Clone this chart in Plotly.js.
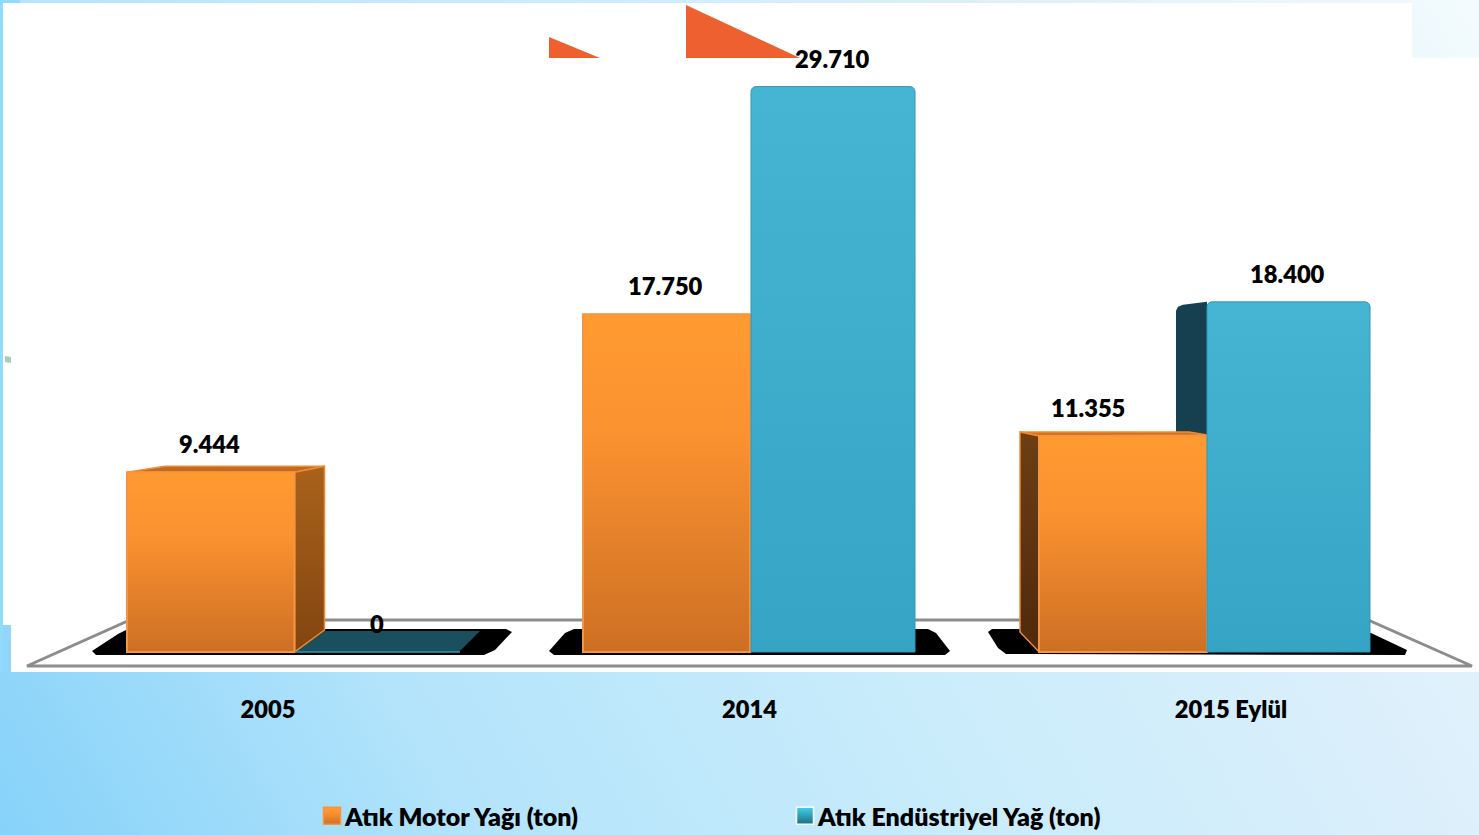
<!DOCTYPE html>
<html lang="tr">
<head>
<meta charset="utf-8">
<title>Atık yağ miktarları</title>
<script src="https://cdn.plot.ly/plotly-3.0.1.min.js"></script>
<style>
  html, body { margin: 0; padding: 0; width: 1479px; height: 835px; overflow: hidden; }
  body { background: linear-gradient(60deg, #86d2f9 0%, #b4e4fb 25%, #c9ecfb 50%, #dceffb 75%, #f3fbfd 100%); }
  #chart { width: 1479px; height: 835px; }
</style>
</head>
<body>
<div id="chart"></div>
<script>
// Yıllara göre toplanan atık yağ miktarları (ton)
const years = ['2005', '2014', '2015 Eylül'];
const motorOil = [9444, 17750, 11355];
const industrialOil = [0, 29710, 18400];
const seriesNames = ['Atık Motor Yağı (ton)', 'Atık Endüstriyel Yağ (ton)'];

// Canvas geometry
const W = 1479, H = 835, plotH = 693;
const catPx = 481.5;            // pixels per category
const firstCatPx = 268;         // pixel centre of the first category
const zeroPx = 652;             // pixel row of value 0
const pxPerUnit = 0.01903;

// Per-bar placement, pixels relative to the category centre
const motorLeft = [-141, -166.5, -192], motorW = [167.5, 167, 168];
const indLeft = [27, 1.5, -24], indW = [165, 164, 163];
const labelNudge = [[-1, -1, -35], [-1, -1, -1]];

const FONT = 'Lato, "Open Sans", sans-serif';
const toCat = px => px / catPx;
const px = x => x / W;
const py = y => 1 - y / plotH;

const fmt = v => String(v).replace(/\B(?=(\d{3})+$)/g, '.');

// Polygon in paper space from canvas pixels
const polyPath = pts => 'M' + pts.map(p => px(p[0]) + ',' + py(p[1])).join('L') + 'Z';
const panel = (pts, color, name) => ({
  type: 'path', xref: 'paper', yref: 'paper', layer: 'below', path: polyPath(pts),
  fillcolor: color, line: { width: 0 }, name: name || ''
});

// Extruded face of a bar, anchored on the bar's top corner, in pixels (y up)
const face = (cat, leftPx, value, pts, color, name, edge) => ({
  type: 'path', layer: 'below', xref: 'x', yref: 'y',
  xsizemode: 'pixel', ysizemode: 'pixel',
  xanchor: cat + toCat(leftPx), yanchor: value,
  path: 'M' + pts.map(p => p[0] + ',' + p[1]).join('L') + 'Z',
  fillcolor: color, line: edge ? { color: edge, width: 1.5 } : { width: 0 }, name
});

const h = v => v * pxPerUnit;
const shapes = [
  // Left edge strip, white panels and the cropped heading arrows between them
  panel([[0, 0], [20, 0], [20, 3], [3, 3], [3, 672], [0, 672]], '#8fdafd'),
  panel([[3, 3], [1412, 3], [1412, 625], [3, 625]], '#ffffff'),
  panel([[686, 5], [800, 58], [686, 58]], '#ee6030'),
  panel([[549, 37], [600, 58], [549, 58]], '#ee6030'),
  panel([[11, 58], [1479, 58], [1479, 672], [11, 672]], '#ffffff'),
  // Small fleck on the left edge
  panel([[5, 356], [11, 357], [11, 363], [5, 362]], '#a9cdb8'),

  // Floor outline
  {
    type: 'path', xref: 'paper', yref: 'paper', layer: 'below',
    path: polyPath([[27, 666], [130, 620], [1368, 620], [1472, 666]]),
    fillcolor: 'rgba(0,0,0,0)', line: { color: '#8c8c8c', width: 3 }
  },

  // Black shadows under each group
  panel([[92, 651], [118, 634], [128, 629], [506, 629], [512, 632], [495, 650], [484, 655], [96, 655]], '#000000'),
  panel([[549, 651], [565, 633], [574, 629], [928, 629], [936, 633], [950, 651], [945, 655], [554, 655]], '#000000'),
  panel([[988, 632], [992, 629], [1030, 629], [1030, 654], [1006, 654], [998, 648]], '#000000'),
  panel([[1030, 654], [1030, 630], [1371, 633], [1407, 650], [1405, 655]], '#000000'),

  // 2005: zero-height industrial slab on the floor
  panel([[295, 652], [325, 631], [480, 631], [459, 652]], '#1a4f5e'),

  // 2005 motor oil: top and right faces
  face(0, motorLeft[0], motorOil[0], [[0, 0], [38, 6], [198, 6], [167.5, 0]], '#c06b1d', 'top1', '#ee8a35'),
  face(0, motorLeft[0] + motorW[0], motorOil[0],
    [[0, 0], [30, 6], [30, 22 - h(motorOil[0])], [0, -h(motorOil[0])]], '#975516', 'right', '#ee8a35'),

  // 2015 industrial oil: left face, drawn behind the orange bar
  face(2, indLeft[2], industrialOil[2],
    [[0, 0], [-24, -3], [-29, -5], [-31, -9], [-31, -130], [0, -134]], '#163f4f', 'tealLeft'),

  // 2015 motor oil: top and left faces
  face(2, motorLeft[2], motorOil[2], [[0, 0], [-19, 4], [150, 4], [168, 1]], '#d0751f', 'top2', '#ee8a35'),
  face(2, motorLeft[2], motorOil[2],
    [[0, 0], [-19, 4], [-19, 20 - h(motorOil[2])], [0, -h(motorOil[2])]], '#5f3410', 'left', '#ee8a35')
];

const gradients = {
  gOrange: [['0%', '#ff9a30'], ['35%', '#fb9230'], ['100%', '#cd6f24']],
  gTeal: [['0%', '#46b5d4'], ['100%', '#36a4c4']],
  gRight: [['0%', '#a9621b'], ['100%', '#824510']],
  gLeft: [['0%', '#6c3e13'], ['100%', '#50290c']],
  gSwatchT: [['0%', '#3fd3ea'], ['50%', '#2f9fb8'], ['100%', '#1c6f86']]
};
const shapeGradient = { right: 'gRight', left: 'gLeft' };

// Value labels sit a fixed distance above each bar
const annotations = [];
[[motorOil, motorLeft, motorW], [industrialOil, indLeft, indW]].forEach((s, k) => {
  s[0].forEach((v, i) => annotations.push({
    x: i + toCat(s[1][i] + s[2][i] / 2), y: v, xref: 'x', yref: 'y',
    text: fmt(v), showarrow: false, xanchor: 'center', yanchor: 'middle',
    xshift: labelNudge[k][i], yshift: 28,
    font: { family: FONT, size: 23.7, weight: 800, color: '#000000' }
  }));
});

const barTrace = (name, values, left, width, color, line, radius) => ({
  type: 'bar', name, x: years, y: values,
  offset: left.map(toCat), width: width.map(toCat),
  marker: { color, line, cornerradius: radius },
  hoverinfo: 'x+y+name'
});

const data = [
  barTrace(seriesNames[0], motorOil, motorLeft, motorW, '#ee8a2e', { color: '#f7943f', width: 2 }, 0),
  barTrace(seriesNames[1], industrialOil, indLeft, indW, '#3eadcc', { color: '#3596b2', width: 1 }, 5)
];

const layout = {
  width: W, height: H,
  margin: { l: 0, r: 0, t: 0, b: H - plotH, pad: 0 },
  paper_bgcolor: 'rgba(0,0,0,0)', plot_bgcolor: 'rgba(0,0,0,0)',
  barmode: 'overlay', showlegend: true,
  xaxis: {
    type: 'category', categoryorder: 'array', categoryarray: years,
    range: [-firstCatPx / catPx, (W - firstCatPx) / catPx],
    showgrid: false, zeroline: false, showline: false, ticks: '',
    tickfont: { family: FONT, size: 23.7, weight: 800, color: '#000000' }
  },
  yaxis: {
    range: [-(plotH - zeroPx) / pxPerUnit, zeroPx / pxPerUnit],
    showgrid: false, zeroline: false, showline: false, showticklabels: false, ticks: ''
  },
  legend: {
    orientation: 'h', xanchor: 'left', yanchor: 'middle',
    xref: 'container', yref: 'container',
    x: 305 / W, y: 1 - 816 / H, itemwidth: 30, entrywidth: 428, entrywidthmode: 'pixels',
    bgcolor: 'rgba(0,0,0,0)', traceorder: 'normal',
    font: { family: FONT, size: 25, weight: 800, color: '#000000' }
  },
  shapes, annotations
};

Plotly.newPlot('chart', data, layout, { displayModeBar: false, responsive: false }).then(gd => {
  // Gradient fills for bars, extruded faces and legend keys
  const NS = 'http://www.w3.org/2000/svg';
  const svg = gd.querySelector('.main-svg');
  const defs = document.createElementNS(NS, 'defs');
  Object.keys(gradients).forEach(id => {
    const g = document.createElementNS(NS, 'linearGradient');
    g.setAttribute('id', id);
    g.setAttribute('x1', '0'); g.setAttribute('y1', '0');
    g.setAttribute('x2', '0'); g.setAttribute('y2', '1');
    gradients[id].forEach(st => {
      const s = document.createElementNS(NS, 'stop');
      s.setAttribute('offset', st[0]);
      s.setAttribute('stop-color', st[1]);
      g.appendChild(s);
    });
    defs.appendChild(g);
  });
  svg.insertBefore(defs, svg.firstChild);

  gd.querySelectorAll('.barlayer .trace').forEach((t, i) => {
    t.querySelectorAll('.point path').forEach(p => {
      p.style.fill = 'url(#' + (i === 0 ? 'gOrange' : 'gTeal') + ')';
    });
  });

  gd.querySelectorAll('.shapelayer path[data-index]').forEach(p => {
    const sh = gd.layout.shapes[+p.getAttribute('data-index')];
    if (sh && shapeGradient[sh.name]) p.style.fill = 'url(#' + shapeGradient[sh.name] + ')';
  });

  // Larger legend keys, placed close to their text
  gd.querySelectorAll('.legend .traces').forEach((t, i) => {
    const g = t.querySelector('.legendpoints');
    if (g) g.setAttribute('transform', 'translate(7,0)');
    const p = t.querySelector('.legendpoints path');
    if (p) {
      p.setAttribute('d', 'M8.5,8.5H-8.5V-8.5H8.5Z');
      p.style.fill = 'url(#' + (i === 0 ? 'gOrange' : 'gSwatchT') + ')';
      p.style.stroke = i === 0 ? '#f7943f' : '#ffffff';
      p.style.strokeWidth = '1.5px';
    }
  });
});
</script>
</body>
</html>
